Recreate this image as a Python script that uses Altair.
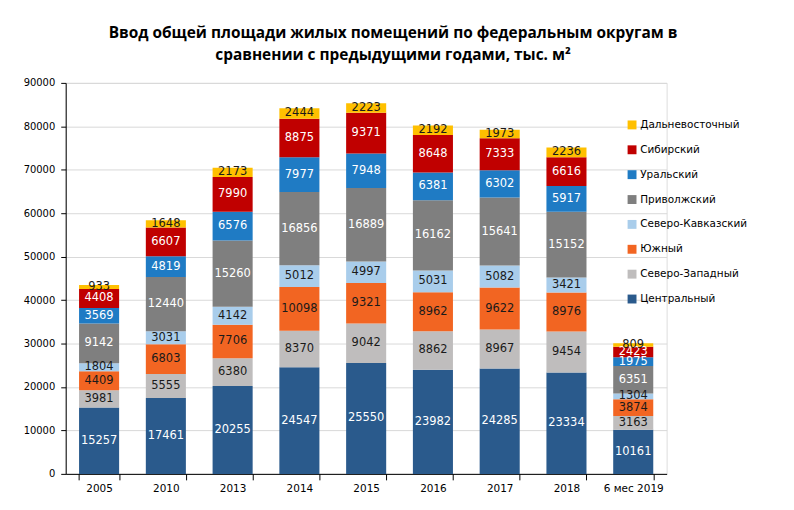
import altair as alt
import pandas as pd

categories = ["2005", "2010", "2013", "2014", "2015", "2016", "2017", "2018", "6 мес 2019"]

series_names = ["Центральный", "Северо-Западный", "Южный", "Северо-Кавказский",
                "Приволжский", "Уральский", "Сибирский", "Дальневосточный"]

central = [15257, 17461, 20255, 24547, 25550, 23982, 24285, 23334, 10161]
northwest = [3981, 5555, 6380, 8370, 9042, 8862, 8967, 9454, 3163]
south = [4409, 6803, 7706, 10098, 9321, 8962, 9622, 8976, 3874]
ncaucasus = [1804, 3031, 4142, 5012, 4997, 5031, 5082, 3421, 1304]
volga = [9142, 12440, 15260, 16856, 16889, 16162, 15641, 15152, 6351]
ural = [3569, 4819, 6576, 7977, 7948, 6381, 6302, 5917, 1975]
siberia = [4408, 6607, 7990, 8875, 9371, 8648, 7333, 6616, 2423]
fareast = [933, 1648, 2173, 2444, 2223, 2192, 1973, 2236, 809]

series_values = [central, northwest, south, ncaucasus, volga, ural, siberia, fareast]

colors = ["#2A5A8C", "#BFBDBD", "#F26522", "#A9CDEB", "#7F7F7F", "#1F7BC4", "#C00000", "#FFC000"]
label_colors = ["white", "#1a1a1a", "#1a1a1a", "#1a1a1a", "white", "white", "white", "#1a1a1a"]

rows = []
for si, (name, vals) in enumerate(zip(series_names, series_values)):
    for ci, (cat, v) in enumerate(zip(categories, vals)):
        off = -9 if (si == 7 and ci == 8) else 0
        rows.append({"cat": cat, "series": name, "value": v, "order": si,
                     "tc": label_colors[si], "off": off})
df = pd.DataFrame(rows)

legend_order = list(reversed(series_names))
legend_colors = list(reversed(colors))

base = alt.Chart(df).transform_stack(
    stack="value", groupby=["cat"], as_=["y0", "y1"],
    sort=[alt.SortField("order", order="ascending")]
).transform_calculate(mid="(datum.y0 + datum.y1) / 2")

xenc = alt.X("cat:N", sort=categories, title=None,
             scale=alt.Scale(paddingInner=0.4, paddingOuter=0.2),
             axis=alt.Axis(labelAngle=0, labelFont="DejaVu Sans", labelFontSize=10.5,
                           labelColor="#000", domainColor="#000", tickColor="#000",
                           tickBand="extent", tickSize=6, labelPadding=4))

bars = base.mark_bar().encode(
    x=xenc,
    y=alt.Y("y0:Q", title=None,
            scale=alt.Scale(domain=[0, 90000], nice=False),
            axis=alt.Axis(values=list(range(0, 90001, 10000)), format="d",
                          labelFont="DejaVu Sans",
                          labelFontSize=10, labelColor="#000", domainColor="#000",
                          tickColor="#000", tickSize=5, labelPadding=6,
                          gridColor="#D9D9D9", grid=True)),
    y2="y1:Q",
    color=alt.Color("series:N", scale=alt.Scale(domain=legend_order, range=legend_colors),
                    legend=alt.Legend(title=None, orient="none", legendX=564, legendY=37,
                                      symbolType="square", symbolSize=80,
                                      symbolStrokeWidth=0,
                                      labelFont="DejaVu Sans", labelFontSize=10.5,
                                      labelColor="#000", rowPadding=14, labelOffset=3)),
)

labels = base.mark_text(font="DejaVu Sans", fontSize=11.5, baseline="middle").encode(
    x=alt.X("cat:N", sort=categories),
    y=alt.Y("mid:Q"),
    yOffset=alt.YOffset("off:Q", scale=None),
    text=alt.Text("value:Q", format="d"),
    color=alt.Color("tc:N", scale=None),
)

chart = alt.layer(bars, labels).properties(
    width=604, height=393,
    autosize=alt.AutoSizeParams(type="none"),
    padding={"left": 58, "top": 74, "right": 120, "bottom": 28},
    title=alt.TitleParams(
        text=["Ввод общей площади жилых помещений по федеральным округам  в",
              "сравнении с предыдущими годами, тыс. м²"],
        font="Open Sans", fontSize=15.5, fontWeight="bold", color="#000",
        anchor="middle", dx=27, offset=14, lineHeight=23),
).configure_view(stroke=None).configure(background="white")

chart.save("out.html", embed_options={"renderer": "svg", "actions": False})
